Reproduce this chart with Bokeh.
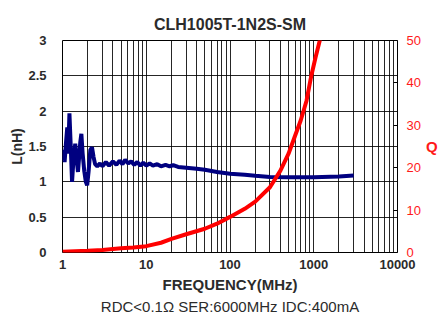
from bokeh.plotting import figure
from bokeh.models import (Range1d, LinearAxis, FixedTicker, PrintfTickFormatter, Title)
from bokeh.embed import file_html
from bokeh.resources import INLINE

# ---- data ----
freq_L = [1.0, 1.03, 1.06, 1.10, 1.14, 1.17, 1.21, 1.25, 1.30, 1.35, 1.42, 1.48, 1.53,
          1.58, 1.63, 1.68, 1.74, 1.82, 1.90, 1.97, 2.05, 2.15, 2.25, 2.35, 2.45, 2.6,
          2.8, 3.0, 3.3, 3.6, 4.0, 4.4, 4.8, 5.2, 5.6, 6.1, 6.6, 7.2, 7.8, 8.5, 9.2,
          10, 11, 12, 13.5, 15, 17, 19, 21, 24, 30, 40, 50, 70, 100, 150, 200, 300,
          500, 1000, 2000, 3000]
L_nH = [1.30, 1.45, 1.28, 1.55, 1.77, 1.40, 1.97, 1.55, 1.00, 1.30, 1.54, 1.30, 1.14,
        1.35, 1.56, 1.68, 1.40, 1.15, 1.00, 0.95, 1.15, 1.45, 1.49, 1.35, 1.25, 1.22,
        1.26, 1.22, 1.28, 1.23, 1.29, 1.24, 1.30, 1.25, 1.31, 1.26, 1.29, 1.24, 1.28,
        1.23, 1.27, 1.23, 1.26, 1.23, 1.25, 1.22, 1.24, 1.22, 1.235, 1.21, 1.20, 1.185,
        1.17, 1.14, 1.115, 1.10, 1.085, 1.07, 1.065, 1.065, 1.075, 1.09]

freq_Q = [1, 2, 3, 5, 7, 10, 15, 20, 30, 50, 70, 100, 150, 200, 300, 400, 500, 600,
          700, 820, 935, 1050, 1180, 1250]
Q_val = [0.2, 0.4, 0.6, 1.0, 1.2, 1.5, 2.3, 3.2, 4.3, 5.6, 6.8, 8.4, 10.3, 12.0, 15.4,
         19.3, 23.3, 27.6, 31.2, 35.8, 41.7, 46.0, 50.0, 52.0]

x_ticks = [1, 10, 100, 1000, 10000]
x_grid = [m * 10 ** d for d in range(4) for m in range(1, 10)] + [10000]
yL_ticks = [0, 0.5, 1, 1.5, 2, 2.5, 3]
yQ_ticks = [0, 10, 20, 30, 40, 50]

FONT = "Liberation Sans"
TXT = "#2b2b2b"
RED = "#ff1a1a"

p = figure(x_axis_type="log", x_range=(1, 10000), y_range=(0, 3),
           width=440, height=314,
           min_border_left=62, min_border_right=40, min_border_top=40, min_border_bottom=62,
           output_backend="svg", toolbar_location=None,
           title="CLH1005T-1N2S-SM")

p.title.align = "center"
p.title.text_font = FONT
p.title.text_font_size = "16px"
p.title.text_font_style = "bold"
p.title.text_color = TXT
p.title.standoff = 16

p.outline_line_color = "black"
p.outline_line_width = 1
p.outline_line_alpha = 1

# grids
p.xgrid.ticker = FixedTicker(ticks=x_grid)
p.xgrid.grid_line_color = "black"
p.xgrid.grid_line_alpha = 0.85
p.ygrid.ticker = FixedTicker(ticks=yL_ticks)
p.ygrid.grid_line_color = "black"
p.ygrid.grid_line_alpha = 0.85

# x axis
xa = p.xaxis[0]
xa.ticker = FixedTicker(ticks=x_ticks)
xa.formatter = PrintfTickFormatter(format="%d")
xa.axis_line_color = None
xa.major_tick_line_color = None
xa.minor_tick_line_color = None
xa.major_label_standoff = 1
xa.major_label_text_font = FONT
xa.major_label_text_font_size = "13px"
xa.major_label_text_font_style = "bold"
xa.major_label_text_color = TXT
xa.axis_label = "FREQUENCY(MHz)"
xa.axis_label_text_font = FONT
xa.axis_label_text_font_size = "15px"
xa.axis_label_text_font_style = "bold"
xa.axis_label_text_color = TXT
xa.axis_label_standoff = 4
xa.axis_label_text_line_height = 1.0

sub = Title(text="RDC<0.1Ω SER:6000MHz IDC:400mA", align="center",
            text_font=FONT, text_font_size="15px", text_font_style="normal",
            text_color=TXT, standoff=0, text_line_height=0.65)
p.add_layout(sub, "below")

# left axis
ya = p.yaxis[0]
ya.ticker = FixedTicker(ticks=yL_ticks)
ya.major_label_overrides = {0: "0", 0.5: "0.5", 1: "1", 1.5: "1.5", 2: "2", 2.5: "2.5", 3: "3"}
ya.axis_line_color = None
ya.major_tick_line_color = None
ya.minor_tick_line_color = None
ya.major_label_standoff = 10
ya.major_label_text_font = FONT
ya.major_label_text_font_size = "13px"
ya.major_label_text_font_style = "bold"
ya.major_label_text_color = TXT
ya.axis_label = "L(nH)"
ya.axis_label_text_font = FONT
ya.axis_label_text_font_size = "14px"
ya.axis_label_text_font_style = "bold"
ya.axis_label_text_color = TXT
ya.axis_label_standoff = 0

# right axis for Q
p.extra_y_ranges = {"q": Range1d(0, 50)}
qa = LinearAxis(y_range_name="q", ticker=FixedTicker(ticks=yQ_ticks))
qa.axis_line_color = None
qa.major_tick_in = 4
qa.major_tick_out = 0
qa.major_tick_line_color = "black"
qa.minor_tick_line_color = None
qa.major_label_standoff = 9
qa.major_label_text_font = FONT
qa.major_label_text_font_size = "13px"
qa.major_label_text_color = RED
qa.axis_label = "Q"
qa.axis_label_orientation = "horizontal"
qa.axis_label_text_font = FONT
qa.axis_label_text_font_size = "15px"
qa.axis_label_text_font_style = "bold"
qa.axis_label_text_color = RED
qa.axis_label_standoff = 2
p.add_layout(qa, "right")

p.line(freq_L, L_nH, line_color="#000080", line_width=4)
p.line(freq_Q, Q_val, y_range_name="q", line_color="#ff0000", line_width=4)

open("out.html", "w").write(file_html(p, INLINE))
